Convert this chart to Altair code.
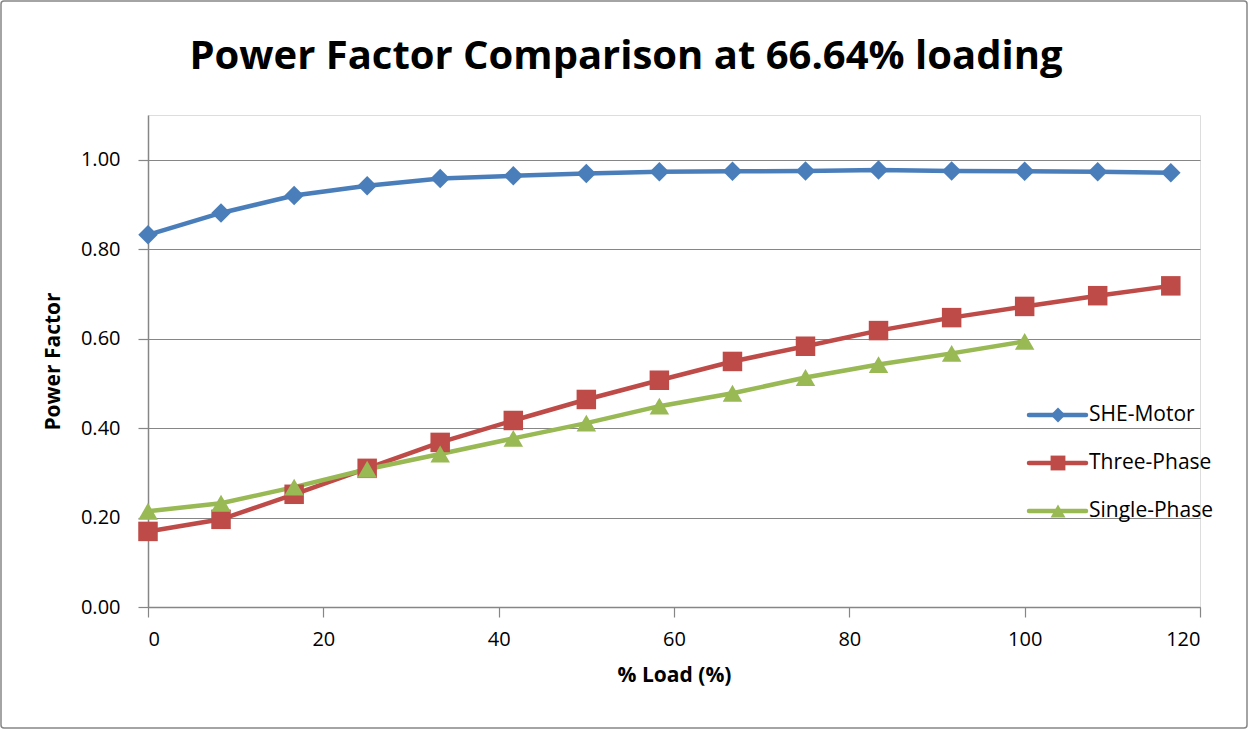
import altair as alt
import pandas as pd

# ---- data ----
title_text = ["Power Factor Comparison at 66.64% loading"]
load = [0, 8.33, 16.67, 25, 33.33, 41.67, 50, 58.33, 66.67, 75, 83.33, 91.67, 100, 108.33, 116.67]
she_motor = [0.832, 0.881, 0.920, 0.942, 0.958, 0.964, 0.969, 0.973, 0.974, 0.975, 0.977, 0.975, 0.974, 0.973, 0.971]
three_phase = [0.169, 0.196, 0.252, 0.310, 0.368, 0.417, 0.464, 0.507, 0.549, 0.583, 0.618, 0.647, 0.672, 0.696, 0.718]
single_phase = [0.214, 0.232, 0.268, 0.308, 0.342, 0.377, 0.411, 0.449, 0.478, 0.513, 0.542, 0.567, 0.594]

series = ["SHE-Motor", "Three-Phase", "Single-Phase"]
colors = ["#4A7EBB", "#BE4B48", "#98B954"]
shapes = ["diamond", "square", "triangle-up"]
y_ticks = [0.0, 0.2, 0.4, 0.6, 0.8, 1.0]
x_ticks = [0, 20, 40, 60, 80, 100, 120]

rows = []
for name, vals in zip(series, [she_motor, three_phase, single_phase]):
    for x, v in zip(load, vals):
        rows.append({"load": x, "pf": v, "series": name})
df = pd.DataFrame(rows)
legend_df = pd.DataFrame({"series": series})

FONT = "Open Sans"
GRAY = "#868686"

color_scale = alt.Scale(domain=series, range=colors)
shape_scale = alt.Scale(domain=series, range=shapes)

x_enc = alt.X(
    "load:Q",
    scale=alt.Scale(domain=[0, 120], nice=False, zero=False),
    axis=alt.Axis(
        values=x_ticks, title="% Load (%)", grid=False, format="d",
        labelFontSize=20, labelPadding=12, titleFontSize=21, titleFontWeight="bold",
        titlePadding=15, tickSize=10, tickColor=GRAY, domainColor=GRAY,
        domainWidth=1.5, tickWidth=1.2, labelFont=FONT, titleFont=FONT, labelColor="black",
        titleColor="black",
    ),
)
y_enc = alt.Y(
    "pf:Q",
    scale=alt.Scale(domain=[0, 1.1], nice=False, zero=True),
    axis=alt.Axis(
        values=y_ticks, title="Power Factor", format=".2f", grid=True,
        gridColor=GRAY, gridWidth=1.2, labelFontSize=20, labelPadding=18,
        titleFontSize=21, titleFontWeight="bold", titlePadding=17, tickSize=10,
        tickColor=GRAY, domainColor=GRAY, domainWidth=1.5, tickWidth=1.2,
        labelFont=FONT, titleFont=FONT, labelColor="black", titleColor="black",
    ),
)

lines = alt.Chart(df).mark_line(strokeWidth=4.5).encode(
    x=x_enc, y=y_enc,
    color=alt.Color("series:N", scale=color_scale, legend=None),
    detail="series:N",
)
points = alt.Chart(df).mark_point(filled=True, size=380, opacity=1).encode(
    x="load:Q", y="pf:Q",
    color=alt.Color("series:N", scale=color_scale, legend=None),
    shape=alt.Shape("series:N", scale=shape_scale, legend=None),
)
main = alt.layer(lines, points)

leg_y = alt.Y("series:N", scale=alt.Scale(type="point", domain=series, range=[300, 396], padding=0), axis=None)
leg_line = alt.Chart(legend_df).mark_rule(strokeWidth=4.5, strokeCap="round").encode(
    x=alt.value(881), x2=alt.value(938), y=leg_y,
    color=alt.Color("series:N", scale=color_scale, legend=None),
)
leg_pt = alt.Chart(legend_df).mark_point(filled=True, size=220, opacity=1).encode(
    x=alt.value(910), y=leg_y,
    color=alt.Color("series:N", scale=color_scale, legend=None),
    shape=alt.Shape("series:N", scale=shape_scale, legend=None),
)
leg_txt = alt.Chart(legend_df).mark_text(align="left", baseline="middle", fontSize=21, font=FONT, color="black").encode(
    x=alt.value(941), y=leg_y, text="series:N",
)
legend = alt.layer(leg_line, leg_pt, leg_txt)

title = alt.Chart(pd.DataFrame({"t": title_text})).mark_text(
    align="center", baseline="middle", fontSize=40, font=FONT, fontWeight="bold", color="black"
).encode(x=alt.value(478), y=alt.value(-58), text="t:N")

border = alt.Chart(pd.DataFrame({"a": [0]})).mark_rect(
    fillOpacity=0, stroke=GRAY, strokeWidth=1.5, cornerRadius=3
).encode(x=alt.value(-147), x2=alt.value(1099), y=alt.value(-114), y2=alt.value(613))

chart = alt.layer(main, legend, title, border).resolve_scale(y="independent").properties(
    width=1052, height=492,
    autosize=alt.AutoSizeParams(type="none"),
    padding={"left": 148, "top": 115, "right": 49, "bottom": 123},
).configure_view(stroke=None).configure(background="white")

chart.save("out.html", embed_options={"renderer": "svg", "actions": False})
